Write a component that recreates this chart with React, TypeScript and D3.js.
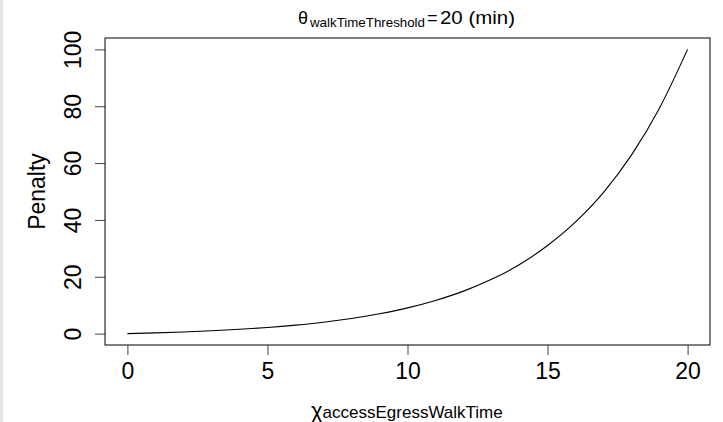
import * as d3 from "d3";
import { useEffect, useRef } from "react";

// values
const walkTime = [0, 1, 2, 3, 4, 5, 6, 7, 8, 9, 10, 11, 12, 13, 14, 15, 16, 17, 18, 19, 20];
const penalty = [0, 0.26, 0.59, 1.0, 1.52, 2.17, 3.0, 4.03, 5.33, 6.98, 9.05, 11.67, 14.95, 19.1, 24.3, 31.0, 39.3, 49.7, 62.9, 79.4, 100];
const xTicks = [0, 5, 10, 15, 20];
const yTicks = [0, 20, 40, 60, 80, 100];

const font = "'Liberation Sans', Arial, sans-serif";

export default function App() {
    const axisBottomRef = useRef<SVGGElement>(null);
    const axisLeftRef = useRef<SVGGElement>(null);

    const width = 723;
    const height = 422;
    const box = { left: 105, right: 710, top: 38, bottom: 345 };

    // R style 4% padding on each side
    const scaleX = d3.scaleLinear().domain([-0.8, 20.8]).range([box.left, box.right]);
    const scaleY = d3.scaleLinear().domain([-4, 104]).range([box.bottom, box.top]);

    const line = d3.line<number>()
        .x((_, i) => scaleX(walkTime[i]))
        .y(d => scaleY(d))
        .curve(d3.curveMonotoneX);

    useEffect(() => {
        if (axisBottomRef.current) {
            const g = d3.select(axisBottomRef.current);
            g.call(d3.axisBottom(scaleX).tickValues(xTicks).tickSize(10).tickPadding(8).tickFormat(d3.format("d")));
            g.select(".domain").remove();
            g.selectAll(".tick line").attr("stroke", "#444");
            g.selectAll(".tick text").attr("font-size", 23).attr("font-family", font).attr("fill", "#000");
        }
        if (axisLeftRef.current) {
            const g = d3.select(axisLeftRef.current);
            g.call(d3.axisLeft(scaleY).tickValues(yTicks).tickSize(10).tickFormat(d3.format("d")));
            g.select(".domain").remove();
            g.selectAll(".tick line").attr("stroke", "#444");
            g.selectAll(".tick text")
                .attr("font-size", 23)
                .attr("font-family", font)
                .attr("fill", "#000")
                .attr("x", null)
                .attr("dy", null)
                .attr("text-anchor", "middle")
                .attr("transform", "translate(-32,0) rotate(-90)")
                .attr("dominant-baseline", "central");
        }
    }, []);

    return (
        <div style={{ position: "absolute", top: 0, left: 0 }}>
            <svg width={width} height={height} style={{ display: "block", background: "#fff" }}>
                <rect x={0} y={0} width={3} height={height} fill="#e6e6e6" />
                <text y={24} fontFamily={font} fontSize={18}>
                    <tspan x={298}>θ</tspan>
                    <tspan x={310} dy={3} fontSize={13} textLength={115} lengthAdjust="spacingAndGlyphs">walkTimeThreshold</tspan>
                    <tspan x={427} dy={-3}>=</tspan>
                    <tspan x={440} fontSize={19} textLength={75} lengthAdjust="spacingAndGlyphs">20 (min)</tspan>
                </text>
                <g ref={axisBottomRef} transform={`translate(0, ${box.bottom})`} />
                <g ref={axisLeftRef} transform={`translate(${box.left}, 0)`} />
                <rect
                    x={box.left}
                    y={box.top}
                    width={box.right - box.left}
                    height={box.bottom - box.top}
                    fill="none"
                    stroke="#000"
                    strokeWidth={1}
                />
                <path d={line(penalty) ?? ""} fill="none" stroke="#000" strokeWidth={1.1} />
                <text
                    transform={`translate(37, ${(box.top + box.bottom) / 2}) rotate(-90)`}
                    textAnchor="middle"
                    dominantBaseline="central"
                    fontFamily={font}
                    fontSize={23}
                >
                    Penalty
                </text>
                <text x={311} y={418} fontFamily={font} fontSize={22}>
                    <tspan>χ</tspan>
                    <tspan fontSize={17}>accessEgressWalkTime</tspan>
                </text>
            </svg>
        </div>
    );
}
